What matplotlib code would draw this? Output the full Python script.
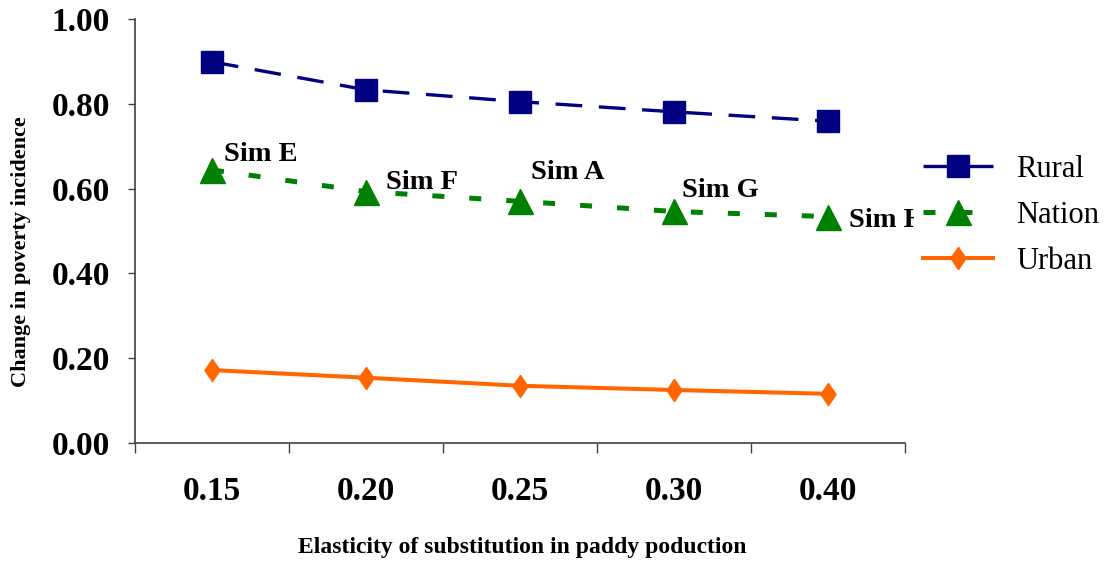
import matplotlib
matplotlib.use("Agg")
import matplotlib.pyplot as plt
import numpy as np

categories = ["0.15", "0.20", "0.25", "0.30", "0.40"]
rural = [0.899, 0.833, 0.805, 0.781, 0.759]
nation = [0.644, 0.593, 0.570, 0.546, 0.534]
urban = [0.172, 0.154, 0.135, 0.125, 0.116]
sim_labels = ["Sim E", "Sim F", "Sim A", "Sim G", "Sim H"]
yticks = [0.0, 0.2, 0.4, 0.6, 0.8, 1.0]

plt.rcParams['font.family'] = ['Liberation Serif', 'DejaVu Serif']

W, H = 1105, 563
fig = plt.figure(figsize=(W / 100, H / 100), dpi=100)
ax = fig.add_axes([135 / W, (H - 443) / H, 770 / W, 424 / H])

diamond = [(0, 1), (0.68, 0), (0, -1), (-0.68, 0), (0, 1)]

x = np.arange(len(categories))
l1, = ax.plot(x, rural, color='#000080', lw=2.4, dashes=(8, 5), marker='s', ms=16,
              mfc='#000080', mec='#000080', label='Rural', zorder=4)
l2, = ax.plot(x, nation, color='#008000', lw=3.6, dashes=(2.4, 5), marker='^', ms=18,
              mfc='#008000', mec='#008000', label='Nation', zorder=4)
l3, = ax.plot(x, urban, color='#FF6600', lw=2.9, marker=diamond, ms=16,
              mfc='#FF6600', mec='#FF6600', label='Urban', zorder=4)

# Sim labels (pixel offsets relative to Nation points)
offsets = [(12, 3), (20, -3), (11, 16), (8, 8), (21, -16)]
for i, (lab, (dx, dy)) in enumerate(zip(sim_labels, offsets)):
    ax.annotate(lab, (x[i], nation[i]), xytext=(dx, dy), textcoords='offset pixels',
                fontsize=20.5, fontweight='bold', ha='left', va='bottom', zorder=3,
                annotation_clip=False)

ax.set_xlim(-0.5, len(categories) - 0.5)
ax.set_ylim(0, 1.0)
ax.set_yticks(yticks)
ax.set_yticklabels([f"{v:.2f}" for v in yticks], fontsize=24, fontweight='bold')
ax.set_xticks(x)
ax.set_xticklabels(categories, fontsize=24, fontweight='bold')
ax.set_xticks(np.arange(len(categories) + 1) - 0.5, minor=True)
ax.tick_params(axis='x', which='major', length=0, pad=24)
ax.tick_params(axis='x', which='minor', length=7, width=1, color='#404040')
ax.tick_params(axis='y', which='major', length=5, width=1, pad=13, color='#404040')

for s in ['top', 'right']:
    ax.spines[s].set_visible(False)
for s in ['left', 'bottom']:
    ax.spines[s].set_color('#404040')
    ax.spines[s].set_linewidth(1.2)

fig.text(522 / W, 1 - 547 / H, "Elasticity of substitution in paddy poduction",
         fontsize=17, fontweight='bold', ha='center', va='center')
fig.text(21 / W, 1 - 252 / H, "Change in poverty incidence", fontsize=16,
         fontweight='bold', rotation=90, ha='center', va='center')

leg = fig.legend(handles=[l1, l2, l3], loc='upper left',
                 bbox_to_anchor=(914 / W, 1 - 146 / H), fontsize=22,
                 frameon=True, facecolor='white', edgecolor='none', framealpha=1,
                 handlelength=2.3, labelspacing=0.55, borderpad=0.3,
                 handletextpad=0.75, borderaxespad=0)
leg.set_zorder(10)

fig.savefig("out.png", dpi=100)
